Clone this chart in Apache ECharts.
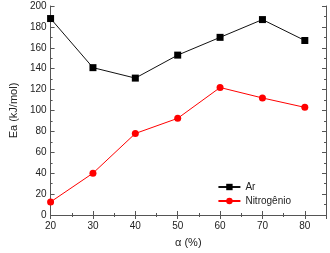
<!DOCTYPE html>
<html>
<head>
<meta charset="utf-8">
<script src="https://cdn.jsdelivr.net/npm/echarts@6/dist/echarts.min.js"></script>
<style>
  html, body { margin: 0; padding: 0; background: #fff; }
  #chart { width: 330px; height: 253px; }
</style>
</head>
<body>
<div id="chart"></div>
<script>
const alpha = [20, 30, 40, 50, 60, 70, 80];
const arValues = [188, 141, 131, 153, 170, 187, 167];
const n2Values = [12.5, 40, 78, 92.5, 122, 112, 103];

const font = "Liberation Sans, Arial, sans-serif";
const axisCol = "#555";

const chart = echarts.init(document.getElementById("chart"));

const tickStyle = { inside: true, length: 4, lineStyle: { color: axisCol } };
const minorStyle = { show: true, splitNumber: 2, length: 2, lineStyle: { color: axisCol } };

chart.setOption({
  animation: false,
  textStyle: { fontFamily: font },
  grid: { left: 38, right: 4, top: 6, bottom: 34 },
  legend: {
    right: 34,
    top: 177,
    orient: "vertical",
    itemWidth: 22,
    itemHeight: 8,
    itemGap: 4,
    textStyle: { fontFamily: font, fontSize: 10, color: "#222" },
    data: ["Ar", "Nitrogênio"]
  },
  xAxis: [
    {
      type: "value", min: 20, max: 85, interval: 10,
      name: "α (%)", nameLocation: "middle", nameGap: 22,
      nameTextStyle: { fontFamily: font, fontSize: 11, color: "#222" },
      axisLine: { lineStyle: { color: axisCol } },
      axisTick: tickStyle, minorTick: minorStyle,
      splitLine: { show: false },
      axisLabel: { fontSize: 10, color: "#222", margin: 6,
        formatter: v => (v % 10 === 0 ? String(v) : "") }
    },
    {
      type: "value", position: "top", min: 20, max: 85, interval: 10,
      axisLine: { lineStyle: { color: axisCol } },
      axisTick: tickStyle, minorTick: minorStyle,
      splitLine: { show: false }, axisLabel: { show: false }
    }
  ],
  yAxis: [
    {
      type: "value", min: 0, max: 200, interval: 20,
      name: "Ea (kJ/mol)", nameLocation: "middle", nameGap: 30,
      nameTextStyle: { fontFamily: font, fontSize: 11, color: "#222" },
      axisLine: { show: true, lineStyle: { color: axisCol } },
      axisTick: tickStyle, minorTick: minorStyle,
      splitLine: { show: false },
      axisLabel: { fontSize: 10, color: "#222", margin: 4 }
    },
    {
      type: "value", position: "right", min: 0, max: 200, interval: 20,
      axisLine: { show: true, lineStyle: { color: axisCol } },
      axisTick: tickStyle, minorTick: minorStyle,
      splitLine: { show: false }, axisLabel: { show: false }
    }
  ],
  series: [
    {
      name: "Ar", type: "line",
      data: alpha.map((a, i) => [a, arValues[i]]),
      symbol: "rect", symbolSize: 7,
      lineStyle: { color: "#111", width: 1 },
      itemStyle: { color: "#000" }
    },
    {
      name: "Nitrogênio", type: "line",
      data: alpha.map((a, i) => [a, n2Values[i]]),
      symbol: "circle", symbolSize: 7,
      lineStyle: { color: "#f00", width: 1 },
      itemStyle: { color: "#f00" }
    }
  ]
});
</script>
</body>
</html>
